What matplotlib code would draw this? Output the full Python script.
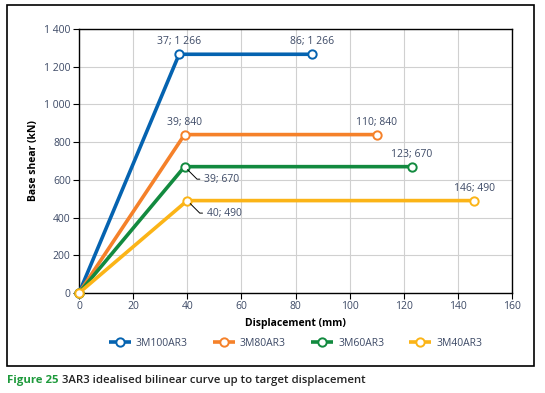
import matplotlib
matplotlib.use('Agg')
import matplotlib.pyplot as plt
from matplotlib.patches import Rectangle

plt.rcParams['font.family'] = ['Open Sans', 'DejaVu Sans']

# bilinear curves: (displacement, base shear)
names = ['3M100AR3', '3M80AR3', '3M60AR3', '3M40AR3']
disp = [[0, 37, 86], [0, 39, 110], [0, 39, 123], [0, 40, 146]]
shear = [[0, 1266, 1266], [0, 840, 840], [0, 670, 670], [0, 490, 490]]
colors = ['#0563b0', '#f5812a', '#128a3f', '#fbb417']
# labels shown on yield and end points
yield_labels = ['37; 1 266', '39; 840', '39; 670', '40; 490']
end_labels = ['86; 1 266', '110; 840', '123; 670', '146; 490']

xticks = [0, 20, 40, 60, 80, 100, 120, 140, 160]
yticks = [0, 200, 400, 600, 800, 1000, 1200, 1400]
ytick_labels = ['0', '200', '400', '600', '800', '1 000', '1 200', '1 400']

tick_col = '#3d4a66'
lab_col = '#3d4a66'

fig = plt.figure(figsize=(5.45, 3.93), dpi=100)
ax = fig.add_axes([79/545, 1-293/393, (512-79)/545, (293-29)/393])

for i in range(len(names)):
    ax.plot(disp[i], shear[i], color=colors[i], lw=2.6, marker='o', ms=6,
            mfc='white', mec=colors[i], mew=1.4, label=names[i],
            solid_capstyle='butt', zorder=3, clip_on=False)

# point labels
for i in range(len(names)):
    x1, x2 = disp[i][1], disp[i][2]
    y = shear[i][1]
    if i < 2:
        ax.annotate(yield_labels[i], (x1, y), xytext=(0, 5), textcoords='offset points',
                    ha='center', va='bottom', fontsize=7.5, color=lab_col)
    else:
        ax.annotate(yield_labels[i], (x1, y), xytext=(14, -9), textcoords='offset points',
                    ha='left', va='center', fontsize=7.5, color=lab_col,
                    arrowprops=dict(arrowstyle='-', color='black', lw=0.7,
                                    connectionstyle='angle,angleA=0,angleB=-45,rad=0',
                                    shrinkA=1, shrinkB=3))
    ax.annotate(end_labels[i], (x2, y), xytext=(0, 5), textcoords='offset points',
                ha='center', va='bottom', fontsize=7.5, color=lab_col)

ax.set_xlim(0, 160)
ax.set_ylim(0, 1400)
ax.set_xticks(xticks)
ax.set_yticks(yticks)
ax.set_yticklabels(ytick_labels)
ax.grid(True, color='#d0d0d0', lw=0.8)
ax.set_axisbelow(True)
for s in ax.spines.values():
    s.set_color('black')
    s.set_linewidth(1.0)
ax.tick_params(axis='both', direction='out', length=4, width=0.8,
               labelsize=7.5, labelcolor=tick_col, pad=2)
ax.set_xlabel('Displacement (mm)', fontsize=7.5, fontweight='bold', labelpad=4)
ax.set_ylabel('Base shear (kN)', fontsize=7.5, fontweight='bold', labelpad=4)

leg = ax.legend(loc='center', bbox_to_anchor=(0.5, -50/264), ncol=4, frameon=False,
                fontsize=7.5, handlelength=2.1, columnspacing=2.4, handletextpad=0.5,
                borderaxespad=0)
for t in leg.get_texts():
    t.set_color(lab_col)

# outer frame
fig.patches.append(Rectangle((7/545, 1-366/393), (534-7)/545, (366-5)/393,
                             transform=fig.transFigure, fill=False, ec='black', lw=1.2))

# caption
fig.text(7/545, 1-381/393, 'Figure 25', color='#1e9a3c', fontsize=8.2, fontweight='bold',
         va='center', ha='left')
fig.text(62/545, 1-381/393, '3AR3 idealised bilinear curve up to target displacement',
         color='#222222', fontsize=8.2, fontweight='semibold', va='center', ha='left')

fig.savefig('out.png', dpi=100)
